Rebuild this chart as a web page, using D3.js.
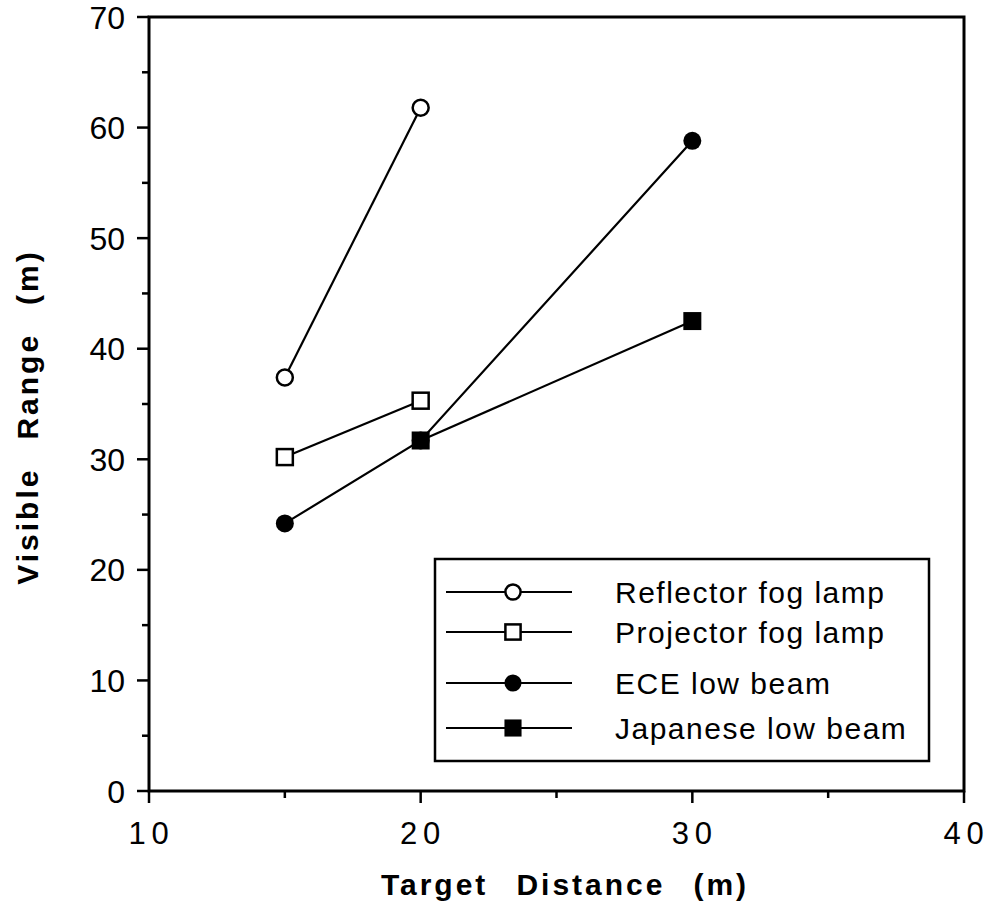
<!DOCTYPE html>
<html><head><meta charset="utf-8">
<script src="https://cdn.jsdelivr.net/npm/d3@7"></script>
<style>body{margin:0;background:#fff}svg{display:block}</style>
</head><body>
<script>
const seriesNames = ["Reflector fog lamp","Projector fog lamp","ECE low beam","Japanese low beam"];
const seriesSymbols = ["circle-open","square-open","circle-filled","square-filled"];
const reflectorX = [15,20], reflectorY = [37.4,61.8];
const projectorX = [15,20], projectorY = [30.2,35.3];
const eceX = [15,20,30], eceY = [24.2,31.7,58.8];
const japaneseX = [20,30], japaneseY = [31.7,42.5];
const xTicks = [10,20,30,40], xMinor = [15,25,35];
const yTicks = [0,10,20,30,40,50,60,70], yMinor = [5,15,25,35,45,55,65];
const xTitleWords = ["Target","Distance","(m)"], yTitleWords = ["Visible","Range","(m)"];

const W=988,H=917;
const L=149,R=964,T=17,B=791;
const svg=d3.select("body").append("svg").attr("width",W).attr("height",H);
const x=d3.scaleLinear().domain([10,40]).range([L,R]);
const y=d3.scaleLinear().domain([0,70]).range([B,T]);
const font="'Liberation Sans', Arial, Helvetica, sans-serif";

// frame
svg.append("rect").attr("x",L).attr("y",T).attr("width",R-L).attr("height",B-T)
 .attr("fill","none").attr("stroke","#000").attr("stroke-width",3);

// y ticks
svg.selectAll(".ytm").data(yTicks).enter().append("line")
 .attr("x1",L-12).attr("x2",L).attr("y1",d=>y(d)).attr("y2",d=>y(d)).attr("stroke","#000").attr("stroke-width",2.5);
svg.selectAll(".ytn").data(yMinor).enter().append("line")
 .attr("x1",L-7).attr("x2",L).attr("y1",d=>y(d)).attr("y2",d=>y(d)).attr("stroke","#000").attr("stroke-width",2.5);
svg.selectAll(".ytl").data(yTicks).enter().append("text")
 .attr("x",L-24).attr("y",d=>y(d)).attr("dy","0.36em").attr("text-anchor","end")
 .attr("font-family",font).attr("font-size",32).text(d=>d);

// x ticks
svg.selectAll(".xtm").data(xTicks).enter().append("line")
 .attr("y1",B).attr("y2",B+12).attr("x1",d=>x(d)).attr("x2",d=>x(d)).attr("stroke","#000").attr("stroke-width",2.5);
svg.selectAll(".xtn").data(xMinor).enter().append("line")
 .attr("y1",B).attr("y2",B+7).attr("x1",d=>x(d)).attr("x2",d=>x(d)).attr("stroke","#000").attr("stroke-width",2.5);
const xl=svg.selectAll(".xtl").data(xTicks).enter().append("text")
 .attr("y",B+53).attr("text-anchor","middle")
 .attr("font-family",font).attr("font-size",31);
xl.append("tspan").attr("x",d=>x(d)-12).text(d=>String(d)[0]);
xl.append("tspan").attr("x",d=>x(d)+11).text(d=>String(d)[1]);

// titles
function title(g,words,gap){
 const t=g.append("text").attr("text-anchor","start")
  .attr("font-family",font).attr("font-weight","bold").attr("font-size",30).attr("letter-spacing",3);
 words.forEach((w,i)=>{ t.append("tspan").attr("dx",i?gap:0).text(w); });
 return t;
}
const xt=title(svg.append("g"),xTitleWords,28).attr("x",0).attr("y",895);
const xb=xt.node().getBBox();
xt.attr("x",565-xb.width/2);
const ytg=svg.append("g").attr("transform","translate(38,417) rotate(-90)");
const yt=title(ytg,yTitleWords,28).attr("x",0).attr("y",0);
const yb=yt.node().getBBox();
yt.attr("x",-yb.width/2);

const series=[
 {name:seriesNames[0],sym:seriesSymbols[0],xs:reflectorX,ys:reflectorY},
 {name:seriesNames[1],sym:seriesSymbols[1],xs:projectorX,ys:projectorY},
 {name:seriesNames[2],sym:seriesSymbols[2],xs:eceX,ys:eceY},
 {name:seriesNames[3],sym:seriesSymbols[3],xs:japaneseX,ys:japaneseY}
];
const line=d3.line().x(d=>x(d[0])).y(d=>y(d[1]));
function marker(g,sym,cx,cy,scale){
 const s=scale||1;
 if(sym.startsWith("circle")){
  g.append("circle").attr("cx",cx).attr("cy",cy).attr("r",(sym==="circle-open"?8:9)*s)
   .attr("fill",sym==="circle-open"?"#fff":"#000").attr("stroke","#000").attr("stroke-width",sym==="circle-open"?2.5:0);
 } else {
  const h=(sym==="square-open"?8:9)*s;
  g.append("rect").attr("x",cx-h).attr("y",cy-h).attr("width",2*h).attr("height",2*h)
   .attr("fill",sym==="square-open"?"#fff":"#000").attr("stroke","#000").attr("stroke-width",sym==="square-open"?2.5:0);
 }
}
series.forEach(s=>{
 const pts=s.xs.map((v,i)=>[v,s.ys[i]]);
 svg.append("path").attr("d",line(pts)).attr("fill","none").attr("stroke","#000").attr("stroke-width",2.2);
});
series.forEach(s=>{
 s.xs.forEach((v,i)=>marker(svg,s.sym,x(v),y(s.ys[i])));
});

// legend
const lg=svg.append("g");
lg.append("rect").attr("x",435).attr("y",559).attr("width",494).attr("height",202)
 .attr("fill","#fff").attr("stroke","#000").attr("stroke-width",2.5);
const rowY=[592,632,683,728];
series.forEach((s,i)=>{
 lg.append("line").attr("x1",446).attr("x2",572).attr("y1",rowY[i]).attr("y2",rowY[i]).attr("stroke","#000").attr("stroke-width",2.2);
 marker(lg,s.sym,513,rowY[i],0.95);
 lg.append("text").attr("x",615).attr("y",rowY[i]).attr("dy","0.36em")
  .attr("font-family",font).attr("font-size",30).attr("letter-spacing",1.5).text(s.name);
});
</script>
</body></html>
